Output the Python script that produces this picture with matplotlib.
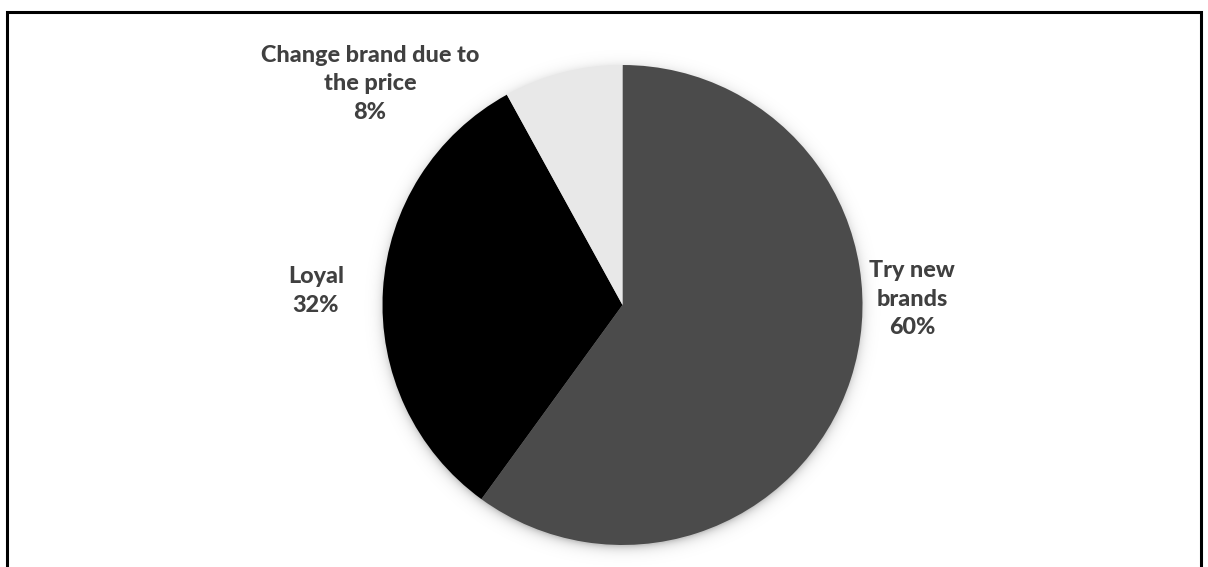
import numpy as np
import matplotlib
matplotlib.use("Agg")
import matplotlib.pyplot as plt
from matplotlib.patches import Rectangle

# Brand behaviour shares
categories = ["Try new\nbrands", "Loyal", "Change brand due to\nthe price"]
shares = [60, 32, 8]
colors = ["#4b4b4b", "#000000", "#e8e8e8"]

W, H = 1208, 567
fig = plt.figure(figsize=(W / 100, H / 100), dpi=100)
ax = fig.add_axes([0, 0, 1, 1])

cx, cy, r = 622.5, H - 305, 240

# soft drop shadow under the pie
yy, xx = np.mgrid[0:H, 0:W]
d = np.hypot(xx + 0.5 - cx, (H - yy - 0.5) - (cy - 3))
alpha = np.where(d > r - 2, 0.22 * np.exp(-np.clip(d - (r - 2), 0, None) / 5.0), 0.22)
shadow = np.zeros((H, W, 4))
shadow[..., 3] = alpha
ax.imshow(shadow, extent=(0, W, 0, H), origin="upper", zorder=1, interpolation="bilinear")

wedges, _ = ax.pie(shares, colors=colors, startangle=90, counterclock=False,
                   center=(cx, cy), radius=r, frame=True,
                   wedgeprops=dict(linewidth=0, antialiased=True))
for w in wedges:
    w.set_zorder(2)
ax.set_xlim(0, W)
ax.set_ylim(0, H)
ax.set_aspect("equal")
ax.axis("off")

label_pos = [(912, H - 299), (316, H - 291), (370, H - 84)]
font = dict(family=["Lato", "DejaVu Sans"], fontweight=900, fontsize=16.8,
            color="#404040", ha="center", va="center", linespacing=1.45)
for cat, val, (lx, ly) in zip(categories, shares, label_pos):
    ax.text(lx, ly, f"{cat}\n{val}%", zorder=3, **font)

# chart frame
ax.add_patch(Rectangle((6.5, -10), W - 7.5 - 6.5, H - 12 + 10, fill=False,
                       edgecolor="black", linewidth=2.2, zorder=4, clip_on=False))

fig.savefig("out.png", dpi=100, facecolor="white")
